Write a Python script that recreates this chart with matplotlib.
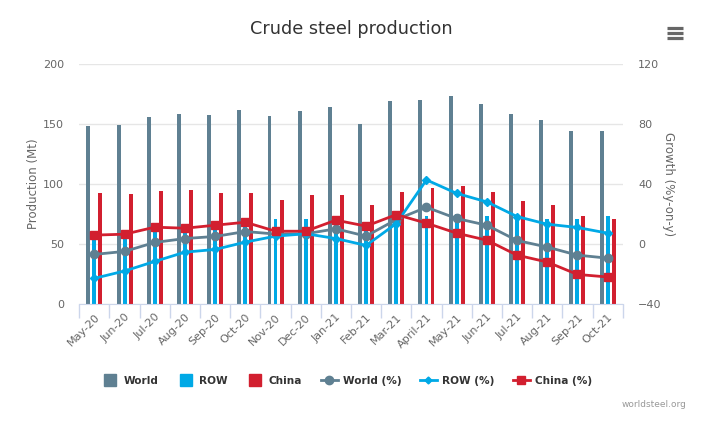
import matplotlib
matplotlib.use("Agg")
import matplotlib.pyplot as plt
import numpy as np
from matplotlib.lines import Line2D

months = ["May-20", "Jun-20", "Jul-20", "Aug-20", "Sep-20", "Oct-20", "Nov-20", "Dec-20",
          "Jan-21", "Feb-21", "Mar-21", "April-21", "May-21", "Jun-21", "Jul-21", "Aug-21",
          "Sep-21", "Oct-21"]
world = [148.6, 149.4, 156.0, 158.6, 157.8, 162.0, 157.0, 161.0, 164.4, 150.2, 169.4, 170.3,
         173.6, 167.0, 158.6, 153.6, 144.4, 144.4]
china = [92.7, 91.9, 94.4, 95.2, 92.7, 92.7, 86.9, 91.0, 91.0, 82.7, 93.6, 96.9, 98.6, 93.6,
         86.1, 82.7, 73.6, 71.1]
row = [55.9, 57.5, 61.6, 63.4, 65.1, 69.3, 70.3, 71.0, 73.4, 67.5, 75.8, 72.8, 75.3, 73.6,
       72.8, 71.0, 71.0, 73.6]
world_pct = [-7.1, -5.1, 0.9, 3.5, 4.9, 8.2, 6.5, 6.7, 10.0, 5.1, 16.2, 24.4, 16.9, 12.4,
             2.2, -2.2, -7.6, -9.6]
row_pct = [-23.1, -18.2, -11.8, -5.6, -3.8, 1.1, 5.1, 6.7, 3.5, -1.1, 13.5, 42.7, 33.7, 28.0,
           18.2, 13.1, 10.9, 7.1]
china_pct = [5.8, 6.4, 11.1, 10.4, 12.4, 14.4, 8.4, 8.4, 15.8, 11.8, 19.5, 13.8, 7.1, 2.4,
             -7.6, -12.2, -20.5, -22.2]

c_world = "#5f8092"
c_row = "#00a9e6"
c_china = "#d21f2f"
grid_c = "#e6e6e6"
tick_c = "#666666"

fig = plt.figure(figsize=(7.02, 4.23), dpi=100)
ax = fig.add_axes([79.3 / 702, 1 - 303.6 / 423, (622.7 - 79.3) / 702, (303.6 - 64.3) / 423])
ax2 = ax.twinx()

x = np.arange(len(months))
bw = 0.13
off = 0.2
ax.bar(x - off, world, bw, color=c_world, zorder=2)
ax.bar(x, row, bw, color=c_row, zorder=2)
ax.bar(x + off, china, bw, color=c_china, zorder=2)

ax.set_xlim(-0.5, len(months) - 0.5)
ax.set_ylim(0, 200)
ax.set_yticks([0, 50, 100, 150, 200])
ax.yaxis.grid(True, color=grid_c, linewidth=1, zorder=0)
ax.set_axisbelow(True)

ax2.plot(x, world_pct, color=c_world, lw=2, marker="o", ms=6, zorder=3)
ax2.plot(x, row_pct, color=c_row, lw=2, marker="D", ms=3.8, zorder=4)
ax2.plot(x, china_pct, color=c_china, lw=2, marker="s", ms=6.2, zorder=5)
ax2.set_ylim(-40, 120)
ax2.set_yticks([-40, 0, 40, 80, 120])

for a in (ax, ax2):
    for s in ("top", "left", "right"):
        a.spines[s].set_visible(False)
    a.spines["bottom"].set_color("#ccd6eb")
    a.tick_params(axis="y", length=0, labelsize=8, labelcolor=tick_c, pad=11)

ax2.spines["bottom"].set_visible(False)
ax.set_xticks(np.arange(-0.5, len(months), 1.0), minor=False)
ax.set_xticklabels([])
ax.tick_params(axis="x", which="major", length=10, color="#ccd6eb", width=1)
ax.set_xticks(x, minor=True)
ax.set_xticklabels(months, minor=True, rotation=45, ha="right", va="top",
                   rotation_mode="anchor", fontsize=8, color=tick_c)
ax.tick_params(axis="x", which="minor", length=0, pad=6)

ax.set_ylabel("Production (Mt)", fontsize=8.5, color=tick_c, labelpad=2)
ax2.set_ylabel("Growth (%y-on-y)", fontsize=8.5, color=tick_c, rotation=270, labelpad=10)

fig.text(0.5, 1 - 29 / 423, "Crude steel production", ha="center", va="center",
         fontsize=12.7, color="#333333")
fig.text(686 / 702, 1 - 404 / 423, "worldsteel.org", ha="right", va="center",
         fontsize=6.5, color="#999999")

for yy in (28.3, 33.3, 38.3):
    fig.add_artist(Line2D([667 / 702, 683 / 702], [1 - yy / 423, 1 - yy / 423],
                          color="#666666", lw=2.3, solid_capstyle="butt"))

handles = [
    Line2D([], [], ls="none", marker="s", ms=8.6, color=c_world),
    Line2D([], [], ls="none", marker="s", ms=8.6, color=c_row),
    Line2D([], [], ls="none", marker="s", ms=8.6, color=c_china),
    Line2D([], [], color=c_world, lw=2, marker="o", ms=6),
    Line2D([], [], color=c_row, lw=2, marker="D", ms=3.5),
    Line2D([], [], color=c_china, lw=2, marker="s", ms=6),
]
labels = ["World", "ROW", "China", "World (%)", "ROW (%)", "China (%)"]
leg = fig.legend(handles, labels, loc="center", bbox_to_anchor=(347 / 702, 1 - 381 / 423),
                 ncol=6, frameon=False, handlelength=1.6, handletextpad=0.5,
                 columnspacing=1.75, prop={"size": 7.6, "weight": "bold"})
for t in leg.get_texts():
    t.set_color("#333333")

fig.savefig("out.png", dpi=100)
